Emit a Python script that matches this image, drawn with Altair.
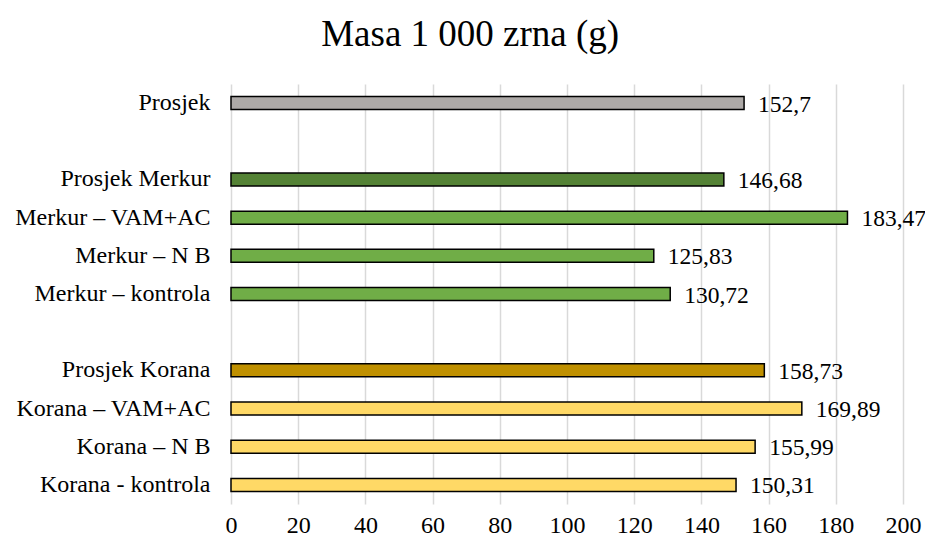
import altair as alt
import pandas as pd

categories = [
    "Prosjek",
    "Prosjek Merkur",
    "Merkur – VAM+AC",
    "Merkur – N B",
    "Merkur – kontrola",
    "Prosjek Korana",
    "Korana – VAM+AC",
    "Korana – N B",
    "Korana - kontrola",
]
values = [152.7, 146.68, 183.47, 125.83, 130.72, 158.73, 169.89, 155.99, 150.31]
groups = ["Prosjek", "Prosjek Merkur", "Merkur", "Merkur", "Merkur",
          "Prosjek Korana", "Korana", "Korana", "Korana"]

row_order = [
    "Prosjek", " ",
    "Prosjek Merkur", "Merkur – VAM+AC", "Merkur – N B", "Merkur – kontrola",
    "  ",
    "Prosjek Korana", "Korana – VAM+AC", "Korana – N B", "Korana - kontrola",
]
group_names = ["Prosjek", "Prosjek Merkur", "Merkur", "Prosjek Korana", "Korana"]
group_colors = ["#ADA9A7", "#548235", "#70AD47", "#BF9000", "#FFD966"]
x_ticks = list(range(0, 201, 20))

df = pd.DataFrame({"cat": categories, "v": values, "g": groups})

FONT = "Liberation Serif"

y_enc = alt.Y(
    "cat:N",
    sort=row_order,
    scale=alt.Scale(domain=row_order),
    title=None,
    axis=alt.Axis(
        labelFont=FONT, labelFontSize=24, labelColor="#000000",
        labelPadding=21, ticks=False, domain=False, grid=False,
        labelLimit=400,
    ),
)
x_enc = alt.X(
    "v:Q",
    title=None,
    scale=alt.Scale(domain=[0, 200], nice=False),
    axis=alt.Axis(
        values=x_ticks, labelFont=FONT, labelFontSize=24, labelColor="#000000",
        labelPadding=9, labelFlush=False, ticks=False, domain=False, grid=True,
        gridColor="#D9D9D9", gridWidth=1.5,
    ),
)

bars = alt.Chart(df).mark_bar(
    size=13, stroke="#000000", strokeWidth=1.5
).encode(
    x=x_enc,
    y=y_enc,
    color=alt.Color("g:N", scale=alt.Scale(domain=group_names, range=group_colors), legend=None),
)

labels = alt.Chart(df).transform_calculate(
    lab="replace(toString(datum.v), '.', ',')"
).mark_text(
    align="left", baseline="alphabetic", dx=14, dy=8.5,
    font=FONT, fontSize=23.5, color="#000000",
).encode(
    x="v:Q",
    y=alt.Y("cat:N", sort=row_order, scale=alt.Scale(domain=row_order)),
    text="lab:N",
)

chart = alt.layer(bars, labels).properties(
    width=672,
    height=420,
    background="#ffffff",
    title=alt.TitleParams(
        "Masa 1 000 zrna (g)", font=FONT, fontSize=37, fontWeight="normal",
        color="#000000", anchor="middle", frame="bounds", offset=30,
    ),
    autosize=alt.AutoSizeParams(type="none"),
    padding={"left": 223, "top": 76, "right": 22, "bottom": 32},
).configure_view(
    strokeWidth=0, stroke=None
)

chart.save("out.html", embed_options={"renderer": "svg", "actions": False})
